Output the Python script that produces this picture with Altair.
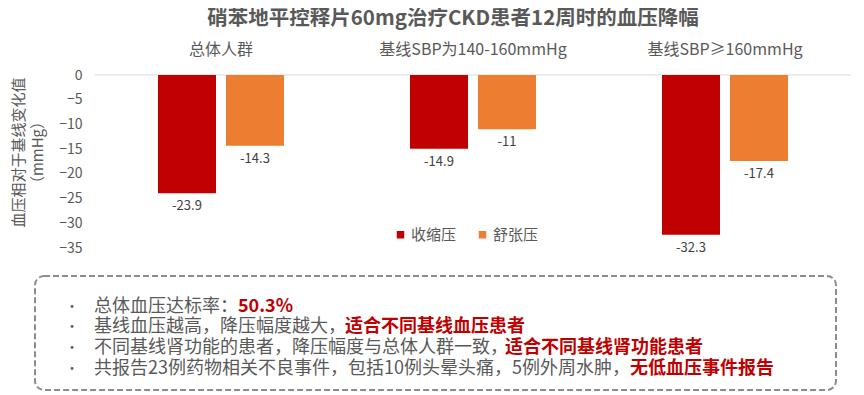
import altair as alt
import pandas as pd

# ---- data ----
groups = ["总体人群", "基线SBP为140-160mmHg", "基线SBP≥160mmHg"]
series = ["收缩压", "舒张压"]
systolic = [-23.9, -14.9, -32.3]
diastolic = [-14.3, -11, -17.4]
colors = ["#C00000", "#ED7D31"]
y_ticks = [0, -5, -10, -15, -20, -25, -30, -35]

title_text = "硝苯地平控释片60mg治疗CKD患者12周时的血压降幅"
y_title = ["血压相对于基线变化值", "（mmHg）"]
bullet_normal = [
    "总体血压达标率：",
    "基线血压越高，降压幅度越大，",
    "不同基线肾功能的患者，降压幅度与总体人群一致，",
    "共报告23例药物相关不良事件，包括10例头晕头痛，5例外周水肿，",
]
bullet_red = [
    "50.3%",
    "适合不同基线血压患者",
    "适合不同基线肾功能患者",
    "无低血压事件报告",
]

rows = []
for g, s, d in zip(groups, systolic, diastolic):
    rows.append({"group": g, "series": series[0], "value": s, "label": f"{s:g}"})
    rows.append({"group": g, "series": series[1], "value": d, "label": f"{d:g}"})
df = pd.DataFrame(rows)
gdf = pd.DataFrame({"group": groups})
zdf = pd.DataFrame({"value": [0]})
one = pd.DataFrame({"k": [0]})

FONT = "Noto Sans CJK SC"
GRAY = "#595959"

xscale = alt.Scale(paddingInner=0.5, paddingOuter=0.25)
xenc = alt.X("group:N", sort=groups, scale=xscale, axis=None)
xoff = alt.XOffset("series:N", sort=series,
                   scale=alt.Scale(paddingInner=10 / 68, paddingOuter=0))

yaxis = alt.Axis(values=y_ticks, title=y_title, ticks=False, grid=False,
                 domain=False, labelPadding=13, labelFontSize=14,
                 labelOverlap=False,
                 labelColor=GRAY, labelFont=FONT,
                 titleFont=FONT, titleFontSize=15, titleFontWeight="normal",
                 titleColor=GRAY, titleAngle=-90, titleAlign="center",
                 titleBaseline="middle", titleX=-77, titleY=77,
                 titleLineHeight=19)
yenc = alt.Y("value:Q", scale=alt.Scale(domain=[-35, 0], nice=False), axis=yaxis)

base = alt.Chart(df)

zero_rule = alt.Chart(zdf).mark_rule(color="#D9D9D9", strokeWidth=1).encode(
    y=yenc
)

bars = base.mark_bar().encode(
    x=xenc,
    xOffset=xoff,
    y=yenc,
    color=alt.Color("series:N", sort=series,
                    scale=alt.Scale(domain=series, range=colors),
                    legend=alt.Legend(title=None, orient="none", direction="horizontal",
                                      legendX=298, legendY=152, padding=0,
                                      symbolType="square",
                                      symbolSize=56, symbolStrokeWidth=0,
                                      labelFontSize=15, labelFont=FONT,
                                      labelColor=GRAY, labelOffset=3,
                                      columnPadding=18)),
)

labels = base.mark_text(font=FONT, fontSize=13, color="#404040",
                        baseline="middle", dy=13).encode(
    x=xenc, xOffset=xoff, y=yenc, text="label:N"
)

headers = alt.Chart(gdf).mark_text(font=FONT, fontSize=16, color=GRAY,
                                   baseline="middle").encode(
    x=xenc, y=alt.value(-25), text="group:N"
)

title = alt.Chart(one).mark_text(font=FONT, fontSize=20.5, fontWeight="bold",
                                 color=GRAY, baseline="middle").encode(
    x=alt.value(358), y=alt.value(-56), text=alt.value(title_text)
)

box = alt.Chart(one).mark_rect(fill=None, fillOpacity=0, stroke="#8C8C8C",
                               strokeWidth=2, strokeDash=[6, 3],
                               cornerRadius=9).encode(
    x=alt.value(-60), x2=alt.value(741), y=alt.value(201), y2=alt.value(315)
)

layers = [zero_rule, bars, labels, headers, title, box]

line_y = [232, 252, 273, 294]
red_x = [143, 250, 410, 535]
for i in range(4):
    layers.append(alt.Chart(one).mark_text(font=FONT, fontSize=13, color=GRAY,
                                           baseline="middle", align="center").encode(
        x=alt.value(-23), y=alt.value(line_y[i]), text=alt.value("•")))
    layers.append(alt.Chart(one).mark_text(font=FONT, fontSize=18, color=GRAY,
                                           baseline="middle", align="left").encode(
        x=alt.value(-1), y=alt.value(line_y[i]), text=alt.value(bullet_normal[i])))
    layers.append(alt.Chart(one).mark_text(font=FONT, fontSize=18, color="#C00000",
                                           fontWeight="bold", baseline="middle",
                                           align="left").encode(
        x=alt.value(red_x[i]), y=alt.value(line_y[i]), text=alt.value(bullet_red[i])))

chart = alt.layer(*layers).properties(
    width=756, height=173,
    background="white",
    autosize=alt.AutoSizeParams(type="none"),
    padding={"left": 87, "top": 67, "right": 5, "bottom": 144},
).configure_view(stroke=None).configure_axis(grid=False)

chart.save("out.html", embed_options={"renderer": "svg", "actions": False})
